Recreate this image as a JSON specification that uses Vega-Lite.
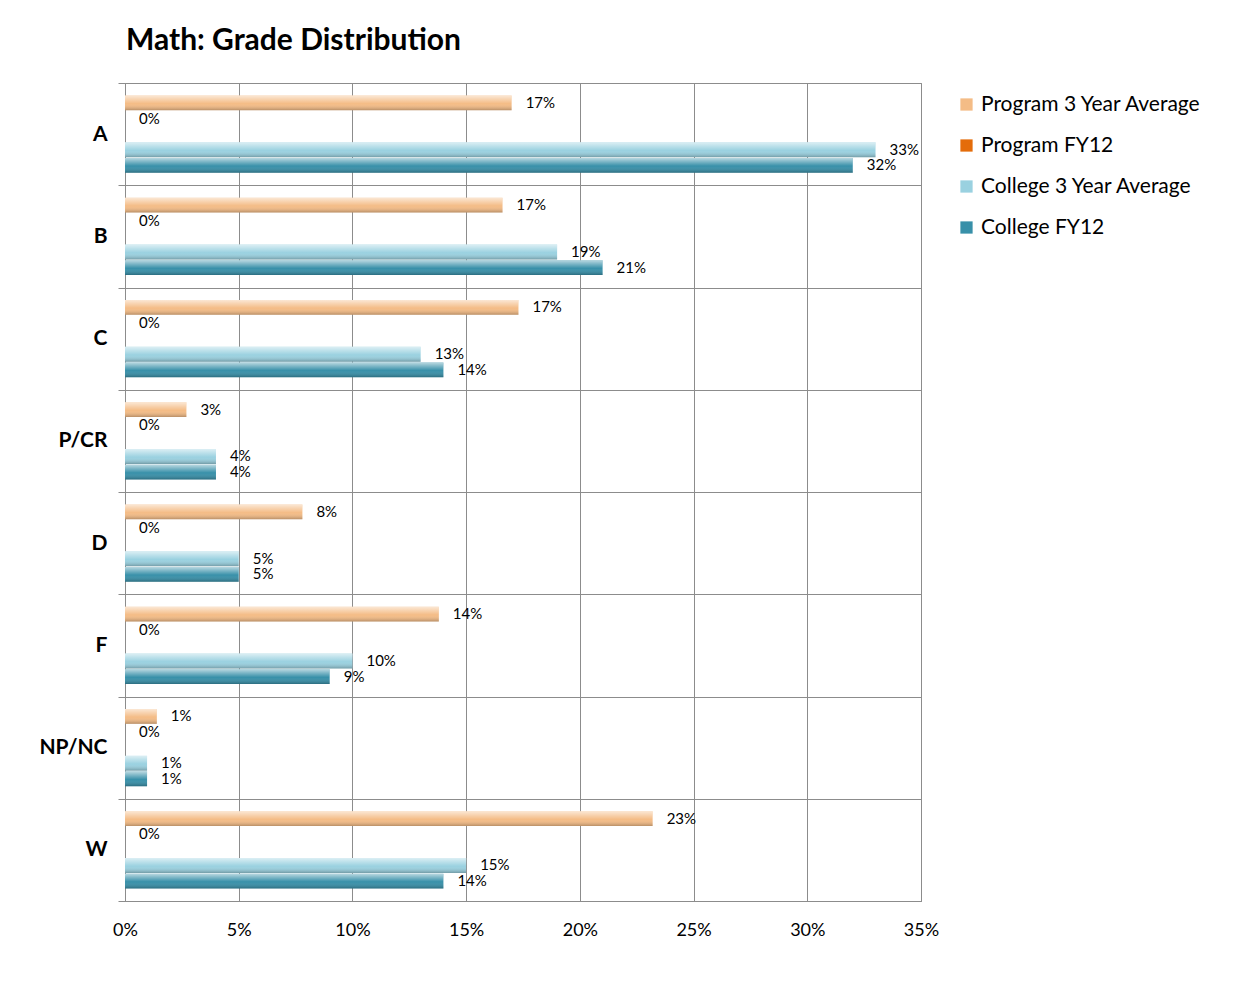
{
  "$schema": "https://vega.github.io/schema/vega-lite/v6.json",
  "autosize": {"type": "none"},
  "padding": {"left": 125, "top": 83, "right": 330, "bottom": 83},
  "width": 796,
  "height": 818,
  "background": "white",
  "title": {
    "text": "Math: Grade Distribution",
    "anchor": "start",
    "frame": "group",
    "font": "Lato",
    "fontWeight": "bold",
    "fontSize": 30,
    "color": "black",
    "baseline": "alphabetic",
    "offset": -8,
    "dx": 1
  },
  "data": {
    "values": [
      {"grade": "A", "series": "Program 3 Year Average", "value": 0.170},
      {"grade": "A", "series": "Program FY12", "value": 0},
      {"grade": "A", "series": "College 3 Year Average", "value": 0.330},
      {"grade": "A", "series": "College FY12", "value": 0.320},
      {"grade": "B", "series": "Program 3 Year Average", "value": 0.166},
      {"grade": "B", "series": "Program FY12", "value": 0},
      {"grade": "B", "series": "College 3 Year Average", "value": 0.190},
      {"grade": "B", "series": "College FY12", "value": 0.210},
      {"grade": "C", "series": "Program 3 Year Average", "value": 0.173},
      {"grade": "C", "series": "Program FY12", "value": 0},
      {"grade": "C", "series": "College 3 Year Average", "value": 0.130},
      {"grade": "C", "series": "College FY12", "value": 0.140},
      {"grade": "P/CR", "series": "Program 3 Year Average", "value": 0.027},
      {"grade": "P/CR", "series": "Program FY12", "value": 0},
      {"grade": "P/CR", "series": "College 3 Year Average", "value": 0.040},
      {"grade": "P/CR", "series": "College FY12", "value": 0.040},
      {"grade": "D", "series": "Program 3 Year Average", "value": 0.078},
      {"grade": "D", "series": "Program FY12", "value": 0},
      {"grade": "D", "series": "College 3 Year Average", "value": 0.050},
      {"grade": "D", "series": "College FY12", "value": 0.050},
      {"grade": "F", "series": "Program 3 Year Average", "value": 0.138},
      {"grade": "F", "series": "Program FY12", "value": 0},
      {"grade": "F", "series": "College 3 Year Average", "value": 0.100},
      {"grade": "F", "series": "College FY12", "value": 0.090},
      {"grade": "NP/NC", "series": "Program 3 Year Average", "value": 0.014},
      {"grade": "NP/NC", "series": "Program FY12", "value": 0},
      {"grade": "NP/NC", "series": "College 3 Year Average", "value": 0.0097},
      {"grade": "NP/NC", "series": "College FY12", "value": 0.0097},
      {"grade": "W", "series": "Program 3 Year Average", "value": 0.232},
      {"grade": "W", "series": "Program FY12", "value": 0},
      {"grade": "W", "series": "College 3 Year Average", "value": 0.150},
      {"grade": "W", "series": "College FY12", "value": 0.140}
    ]
  },
  "encoding": {
    "y": {
      "field": "grade",
      "type": "nominal",
      "sort": ["A", "B", "C", "P/CR", "D", "F", "NP/NC", "W"],
      "scale": {"paddingInner": 0, "paddingOuter": 0},
      "axis": {
        "title": null,
        "tickBand": "extent",
        "grid": true,
        "gridColor": "#8c8c8c",
        "gridWidth": 1,
        "domainColor": "#8c8c8c",
        "tickColor": "#8c8c8c",
        "tickSize": 7,
        "labelPadding": 11,
        "labelFont": "Lato",
        "labelFontWeight": "bold",
        "labelFontSize": 21,
        "labelColor": "black"
      }
    },
    "yOffset": {
      "field": "series",
      "type": "nominal",
      "scale": {
        "domain": ["Program 3 Year Average", "Program FY12", "(gap)", "College 3 Year Average", "College FY12"],
        "paddingInner": 0.05,
        "paddingOuter": 0.8
      }
    }
  },
  "layer": [
    {
      "mark": {"type": "bar", "strokeWidth": 0},
      "encoding": {
        "x": {
          "field": "value",
          "type": "quantitative",
          "scale": {"domain": [0, 0.35], "nice": false},
          "axis": {
            "title": null,
            "values": [0, 0.05, 0.1, 0.15, 0.2, 0.25, 0.3, 0.35],
            "format": ".0%",
            "grid": true,
            "gridColor": "#8c8c8c",
            "gridWidth": 1,
            "ticks": false,
            "domainColor": "#8c8c8c",
            "labelFlush": false,
            "labelPadding": 20,
            "labelFont": "Lato",
            "labelFontSize": 18,
            "labelColor": "black"
          }
        },
        "color": {
          "field": "series",
          "type": "nominal",
          "scale": {
            "domain": ["Program 3 Year Average", "Program FY12", "College 3 Year Average", "College FY12"],
            "range": ["#F4BC86", "#E46C0A", "#9AD1E0", "#3890A9"]
          },
          "legend": {
            "title": null,
            "orient": "none",
            "legendX": 831,
            "legendY": 11,
            "symbolType": "square",
            "symbolSize": 150,
            "symbolStrokeWidth": 0,
            "labelFont": "Lato",
            "labelFontSize": 21,
            "labelColor": "black",
            "labelLimit": 0,
            "labelOffset": 4,
            "rowPadding": 19,
            "padding": 0
          }
        }
      }
    },
    {
      "mark": {
        "type": "bar",
        "strokeWidth": 0,
        "fill": {
          "gradient": "linear",
          "x1": 0, "y1": 0, "x2": 0, "y2": 1,
          "stops": [
            {"offset": 0, "color": "rgba(255,255,255,0.65)"},
            {"offset": 0.25, "color": "rgba(255,255,255,0.35)"},
            {"offset": 0.55, "color": "rgba(255,255,255,0.0)"},
            {"offset": 1, "color": "rgba(0,0,0,0.25)"}
          ]
        }
      },
      "encoding": {
        "x": {"field": "value", "type": "quantitative"}
      }
    },
    {
      "mark": {
        "type": "text",
        "align": "left",
        "baseline": "middle",
        "dx": 14,
        "font": "Lato",
        "fontSize": 15,
        "color": "black"
      },
      "encoding": {
        "x": {"field": "value", "type": "quantitative"},
        "text": {"field": "value", "type": "quantitative", "format": ".0%"}
      }
    }
  ],
  "config": {
    "view": {"stroke": "#8c8c8c"}
  }
}
